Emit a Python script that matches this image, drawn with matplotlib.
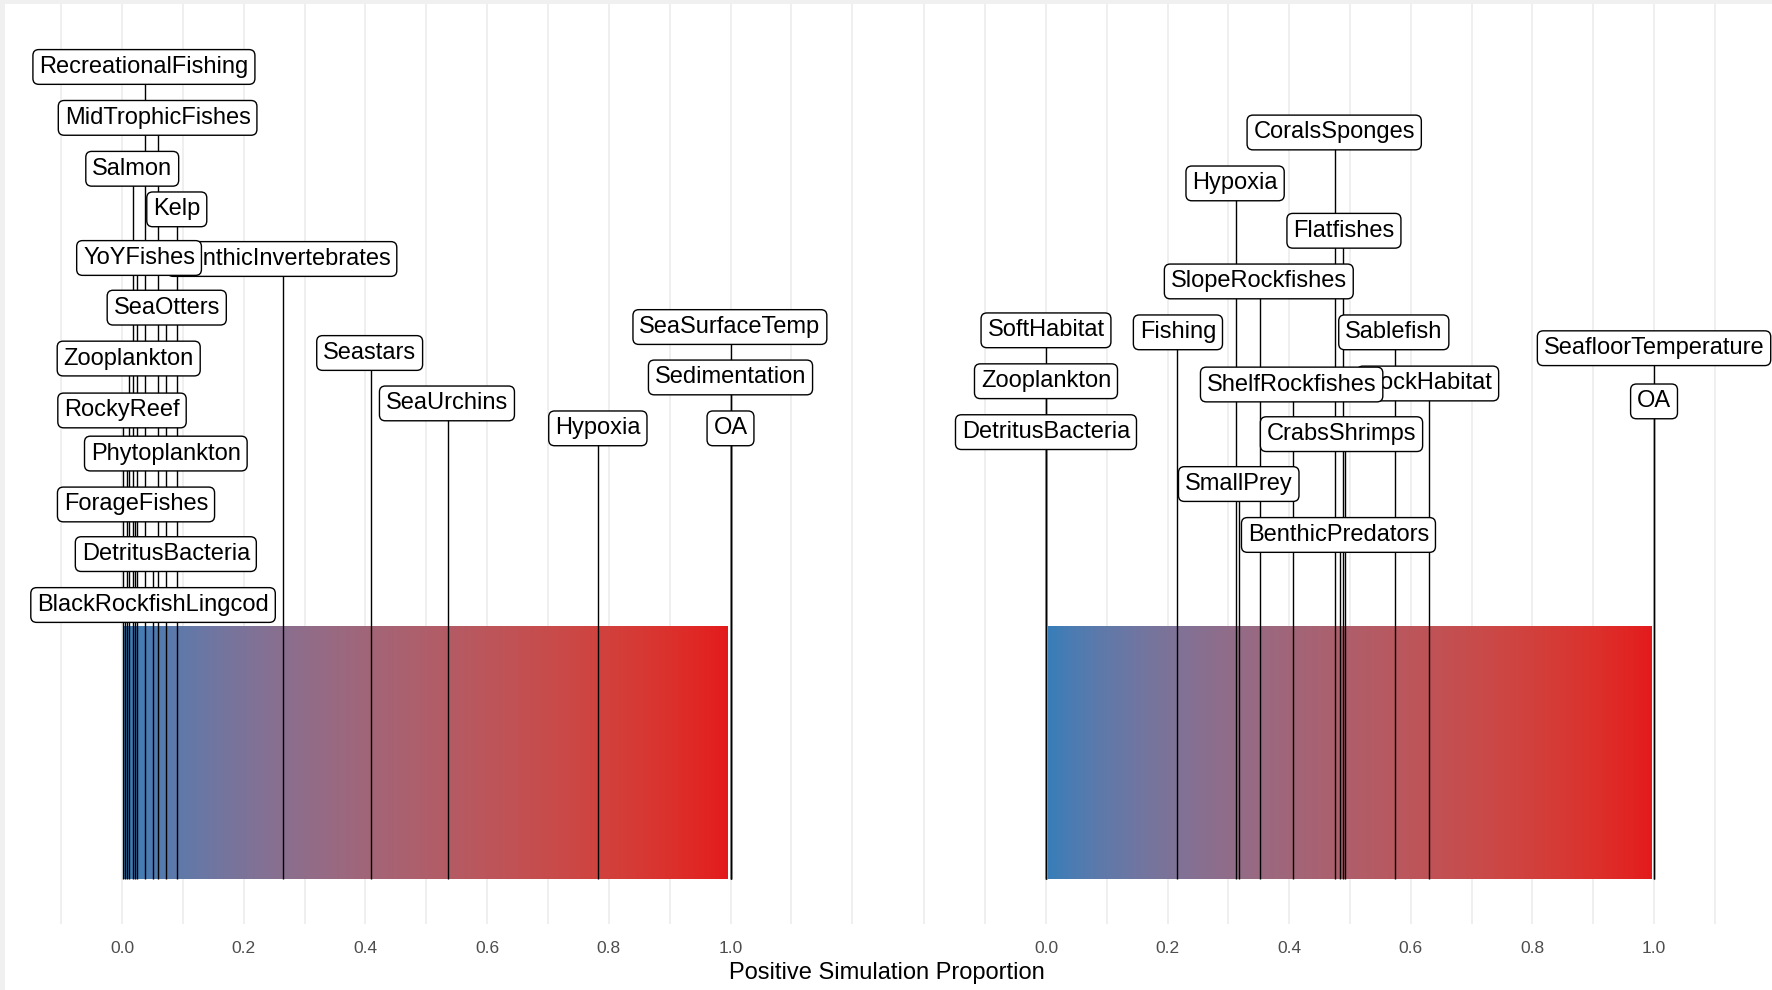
import numpy as np
import matplotlib
import matplotlib.pyplot as plt
from matplotlib.colors import LinearSegmentedColormap, to_rgb
from matplotlib.patches import Rectangle

plt.rcParams['font.family'] = ['Liberation Sans', 'DejaVu Sans']

# left panel: node names and their positive simulation proportion
left_nodes = ["SeaSurfaceTemp", "Sedimentation", "OA", "Hypoxia", "SeaUrchins",
              "Seastars", "BenthicInvertebrates", "Kelp", "SeaOtters",
              "MidTrophicFishes", "DetritusBacteria", "RecreationalFishing",
              "YoYFishes", "ForageFishes", "Salmon", "Zooplankton",
              "Phytoplankton", "BlackRockfishLingcod", "RockyReef"]
left_values = [1.0, 1.0, 1.0, 0.783, 0.535, 0.409, 0.265, 0.091, 0.073,
               0.059, 0.051, 0.038, 0.025, 0.021, 0.018, 0.012, 0.008,
               0.005, 0.002]

# right panel
right_nodes = ["SeafloorTemperature", "OA", "RockHabitat", "Sablefish",
               "CrabsShrimps", "Flatfishes", "BenthicPredators",
               "CoralsSponges", "ShelfRockfishes", "SlopeRockfishes",
               "SmallPrey", "Hypoxia", "Fishing", "SoftHabitat",
               "Zooplankton", "DetritusBacteria"]
right_values = [1.0, 1.0, 0.630, 0.574, 0.491, 0.489, 0.484, 0.476, 0.406,
                0.352, 0.317, 0.313, 0.216, 0.0, 0.0, 0.0]

tick_values = [0.0, 0.2, 0.4, 0.6, 0.8, 1.0]
tick_labels = ["0.0", "0.2", "0.4", "0.6", "0.8", "1.0"]

# where the repelled labels ended up (label centre x, label height)
left_label_pos = {
    "SeaSurfaceTemp": (0.999, 2.19), "Sedimentation": (1.0, 1.99),
    "OA": (1.0, 1.788), "Hypoxia": (0.782, 1.788),
    "SeaUrchins": (0.534, 1.887), "Seastars": (0.407, 2.087),
    "BenthicInvertebrates": (0.263, 2.46), "Kelp": (0.090, 2.657),
    "SeaOtters": (0.0735, 2.267), "MidTrophicFishes": (0.0585, 3.02),
    "DetritusBacteria": (0.072, 1.289), "RecreationalFishing": (0.036, 3.222),
    "YoYFishes": (0.028, 2.464), "ForageFishes": (0.023, 1.486),
    "Salmon": (0.0168, 2.818), "Zooplankton": (0.011, 2.065),
    "Phytoplankton": (0.072, 1.688), "BlackRockfishLingcod": (0.051, 1.087),
    "RockyReef": (0.0, 1.859),
}
right_label_pos = {
    "SeafloorTemperature": (1.0, 2.106), "OA": (1.0, 1.895),
    "RockHabitat": (0.628, 1.966), "Sablefish": (0.572, 2.169),
    "CrabsShrimps": (0.486, 1.765), "Flatfishes": (0.490, 2.572),
    "BenthicPredators": (0.481, 1.365), "CoralsSponges": (0.474, 2.962),
    "ShelfRockfishes": (0.404, 1.962), "SlopeRockfishes": (0.350, 2.371),
    "SmallPrey": (0.317, 1.567), "Hypoxia": (0.311, 2.76),
    "Fishing": (0.217, 2.169), "SoftHabitat": (0.0, 2.177),
    "Zooplankton": (0.0, 1.975), "DetritusBacteria": (0.0, 1.773),
}


# gradient interpolated in Lab space like ggplot's scale_fill_gradient
M = np.array([[0.4124, 0.3576, 0.1805],
              [0.2126, 0.7152, 0.0722],
              [0.0193, 0.1192, 0.9505]])
WHITE = np.array([0.95047, 1.0, 1.08883])


def to_lab(c):
    rgb = np.array(to_rgb(c))
    lin = np.where(rgb <= 0.04045, rgb / 12.92, ((rgb + 0.055) / 1.055) ** 2.4)
    t = (M @ lin) / WHITE
    f = np.where(t > (6 / 29) ** 3, np.cbrt(t), t / (3 * (6 / 29) ** 2) + 4 / 29)
    return np.array([116 * f[1] - 16, 500 * (f[0] - f[1]), 200 * (f[1] - f[2])])


def from_lab(lab):
    fy = (lab[0] + 16) / 116
    f = np.array([fy + lab[1] / 500, fy, fy - lab[2] / 200])
    t = np.where(f > 6 / 29, f ** 3, 3 * (6 / 29) ** 2 * (f - 4 / 29))
    lin = np.linalg.solve(M, t * WHITE)
    rgb = np.where(lin <= 0.0031308, 12.92 * lin,
                   1.055 * np.clip(lin, 0, None) ** (1 / 2.4) - 0.055)
    return np.clip(rgb, 0, 1)


lo, hi = to_lab("#377EB8"), to_lab("#E41A1C")
ramp = [from_lab(lo + (hi - lo) * s) for s in np.linspace(0, 1, 64)]
cmap = LinearSegmentedColormap.from_list("bluered", ramp)

fig = plt.figure(figsize=(17.72, 9.9), dpi=100, facecolor="#f0f0f0")
fig.patches.append(Rectangle((5 / 1772, 0), 1, 986 / 990, transform=fig.transFigure,
                             facecolor="white", edgecolor="none", zorder=-10))

ylim = (-0.1786, 3.472)
panels = [
    (left_nodes, left_values, left_label_pos, [5 / 1772, 0.0667, 880 / 1772, 0.9293], (-0.1923, 1.2539)),
    (right_nodes, right_values, right_label_pos, [893 / 1772, 0.0667, 879 / 1772, 0.9293], (-0.2516, 1.194)),
]

for nodes, values, pos, rect, xlim in panels:
    ax = fig.add_axes(rect)
    ax.set_facecolor("none")
    for s in ax.spines.values():
        s.set_visible(False)
    ax.set_xticks(tick_values)
    ax.set_xticklabels(tick_labels)
    ax.set_xticks(np.arange(-0.3, 1.35, 0.1), minor=True)
    ax.set_yticks([])
    ax.tick_params(axis="x", which="both", length=0, pad=12, labelsize=12.5, labelcolor="#4d4d4d")
    ax.grid(axis="x", which="both", color="#ebebeb", lw=1.1)
    ax.set_axisbelow(True)

    grad = np.linspace(0, 1, 256).reshape(1, -1)
    ax.imshow(grad, cmap=cmap, aspect="auto", extent=[0.003, 0.995, 0, 1],
              origin="lower", zorder=1)

    tops = [pos[n][1] for n in nodes]
    ax.vlines(values, 0, tops, color="black", lw=1.0, zorder=2)

    for i, n in enumerate(nodes):
        lx, ly = pos[n]
        ax.text(lx, ly, n, ha="center", va="center", fontsize=17, zorder=3 + i,
                clip_on=False,
                bbox=dict(boxstyle="round,pad=0.27,rounding_size=0.25",
                          fc="white", ec="black", lw=1.0))

    ax.set_xlim(xlim)
    ax.set_ylim(ylim)

fig.text(887 / 1772, 1 - 973 / 990, "Positive Simulation Proportion",
         ha="center", va="center", fontsize=17)

fig.savefig("out.png", dpi=100, facecolor=fig.get_facecolor())
